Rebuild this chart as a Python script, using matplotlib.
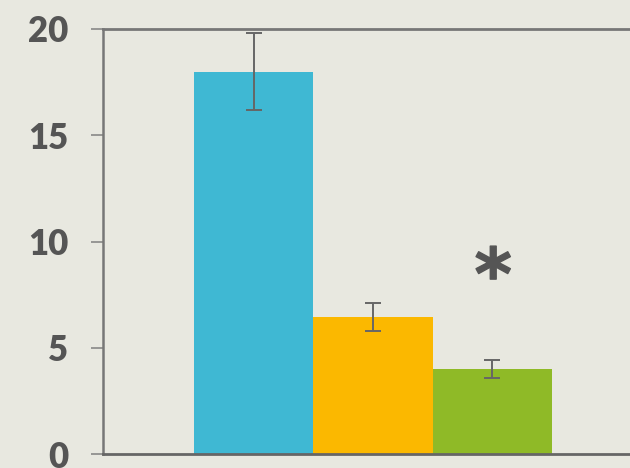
import matplotlib.pyplot as plt
import numpy as np
from matplotlib.markers import MarkerStyle
from matplotlib.textpath import TextPath
from matplotlib.font_manager import FontProperties
from matplotlib.transforms import Affine2D

categories = ["A", "B", "C"]
values = [18.0, 6.43, 4.0]
errors = [1.8, 0.66, 0.42]
colors = ["#3fb8d3", "#fbb800", "#8fba27"]
yticks = [0, 5, 10, 15, 20]
star_x = 2
star_y = 8.55

bg = "#e8e8e0"
fig = plt.figure(figsize=(6.3, 4.68), dpi=100, facecolor=bg)
ax = fig.add_axes([103 / 630, 14 / 468, 527 / 630, 425 / 468])
ax.set_facecolor(bg)

x = np.arange(len(categories))
ax.bar(x, values, width=1.0, color=colors, edgecolor="none",
       yerr=errors, capsize=5.5,
       error_kw=dict(ecolor="#666666", elinewidth=1.4, capthick=1.4))

# asterisk marker, centered on its own ink
tp = TextPath((0, 0), "*", prop=FontProperties(family="DejaVu Sans", weight="bold"))
v = tp.vertices
cx = (v[:, 0].min() + v[:, 0].max()) / 2
cy = (v[:, 1].min() + v[:, 1].max()) / 2
tp = tp.transformed(Affine2D().translate(-cx, -cy))
ax.plot([star_x], [star_y], marker=MarkerStyle(tp), markersize=38,
        color="#555555", linestyle="none")

ax.set_xlim(-0.5 - 91 / 119, 2.5 + 78 / 119)
ax.set_ylim(0, 20)
ax.set_xticks([])
ax.set_yticks(yticks)
ax.set_yticklabels([str(t) for t in yticks], fontsize=25, fontweight="heavy",
                   color="#555555", family="Lato")
ax.tick_params(axis="y", length=9, width=1.2, color="#888888", pad=16)

for side in ["top", "left", "bottom"]:
    ax.spines[side].set_color("#777777")
ax.spines["top"].set_linewidth(2.0)
ax.spines["left"].set_linewidth(1.8)
ax.spines["bottom"].set_linewidth(2.0)
ax.spines["bottom"].set_color("#666666")
ax.spines["right"].set_visible(False)

fig.savefig("out.png", dpi=100, facecolor=bg)
